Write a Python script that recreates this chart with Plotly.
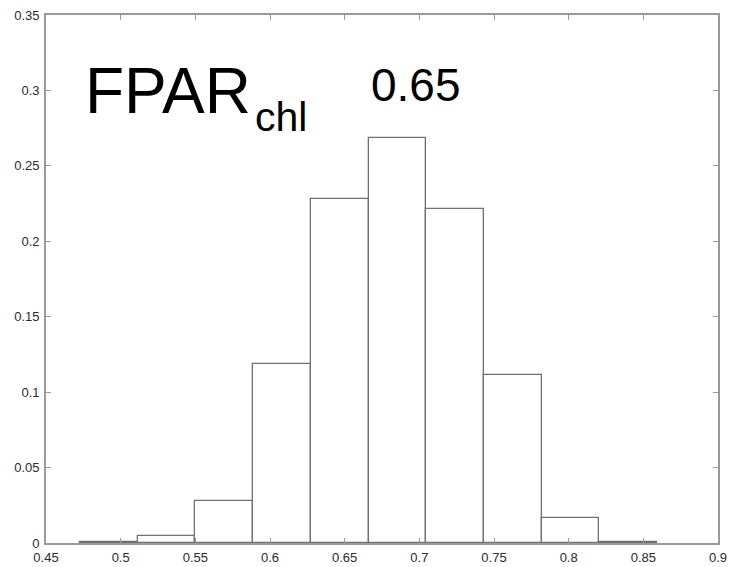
import plotly.graph_objects as go

bin_edges = [0.4728, 0.5114, 0.5500, 0.5888, 0.6275, 0.6660, 0.7047, 0.7433, 0.7819, 0.8205, 0.8592]
frequencies = [0.0007, 0.0045, 0.028, 0.1187, 0.228, 0.2685, 0.2215, 0.1115, 0.0163, 0.0008]
x_ticks = [0.45, 0.5, 0.55, 0.6, 0.65, 0.7, 0.75, 0.8, 0.85, 0.9]
x_tick_text = ["0.45", "0.5", "0.55", "0.6", "0.65", "0.7", "0.75", "0.8", "0.85", "0.9"]
y_ticks = [0, 0.05, 0.1, 0.15, 0.2, 0.25, 0.3, 0.35]
y_tick_text = ["0", "0.05", "0.1", "0.15", "0.2", "0.25", "0.3", "0.35"]

centers = [(a + b) / 2 for a, b in zip(bin_edges[:-1], bin_edges[1:])]
widths = [b - a for a, b in zip(bin_edges[:-1], bin_edges[1:])]

FONT = "Liberation Sans, Arial, Helvetica, sans-serif"

fig = go.Figure()
fig.add_trace(go.Bar(
    x=centers, y=frequencies, width=widths,
    marker=dict(color="white", line=dict(color="#707070", width=1.3)),
    showlegend=False, hoverinfo="skip",
))

axis_common = dict(
    showgrid=False, zeroline=False, showline=True, linecolor="#9a9a9a", linewidth=1.6,
    mirror="ticks", ticks="inside", ticklen=5, tickcolor="#9a9a9a", tickwidth=1.2,
    tickfont=dict(family=FONT, size=13, color="#2a2a2a"), automargin=False,
)

fig.update_layout(
    width=729, height=567,
    margin=dict(l=46, r=11, t=15, b=24),
    paper_bgcolor="white", plot_bgcolor="white",
    bargap=0,
    xaxis=dict(range=[0.45, 0.9], tickvals=x_ticks, ticktext=x_tick_text, ticklabelstandoff=2, **axis_common),
    yaxis=dict(range=[0, 0.35], tickvals=y_ticks, ticktext=y_tick_text, ticklabelstandoff=2, **axis_common),
    annotations=[
        dict(x=0.4754, y=0.2996, xref="x", yref="y", xanchor="left", yanchor="middle",
             text="FPAR", showarrow=False, borderpad=0,
             font=dict(family=FONT, size=64, color="black")),
        dict(x=0.5895, y=0.2825, xref="x", yref="y", xanchor="left", yanchor="middle",
             text="chl", showarrow=False, borderpad=0,
             font=dict(family=FONT, size=41, color="black")),
        dict(x=0.6978, y=0.3035, xref="x", yref="y", xanchor="center", yanchor="middle",
             text="0.65", showarrow=False, borderpad=0,
             font=dict(family=FONT, size=46, color="black")),
    ],
)

fig.write_html("out.html")
